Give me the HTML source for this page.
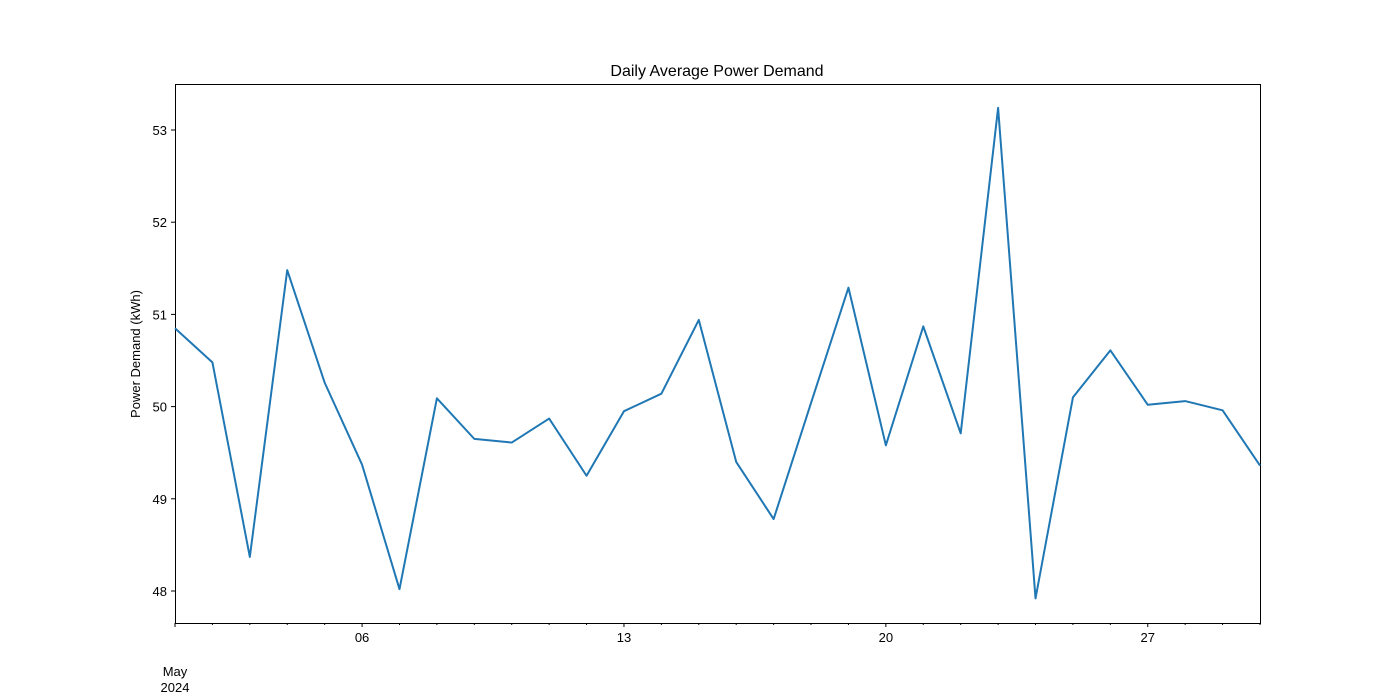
<!DOCTYPE html>
<html><head><meta charset="utf-8"><style>
body{margin:0;background:#fff;}
svg{display:block;font-family:"Liberation Sans","DejaVu Sans",sans-serif;}
</style></head><body>
<svg id="chart" width="1400" height="700">
<rect width="1400" height="700" fill="#fff"/>
<text x="717" y="76" text-anchor="middle" font-size="16">Daily Average Power Demand</text>
<text transform="translate(140,354) rotate(-90)" text-anchor="middle" font-size="13">Power Demand (kWh)</text>
<rect x="175.5" y="84.5" width="1085" height="539" fill="none" stroke="#000" stroke-width="1"/>
</svg>
<script>
const days = [1,2,3,4,5,6,7,8,9,10,11,12,13,14,15,16,17,18,19,20,21,22,23,24,25,26,27,28,29,30];
const demand = [50.85,50.48,48.37,51.48,50.26,49.37,48.02,50.09,49.65,49.61,49.87,49.25,49.95,50.14,50.94,49.40,48.78,50.04,51.29,49.58,50.87,49.71,53.24,47.92,50.10,50.61,50.02,50.06,49.96,49.36];
const yTicks = [48,49,50,51,52,53];
const xMajor = [6,13,20,27];
const xMajorLabels = ["06","13","20","27"];
const NS="http://www.w3.org/2000/svg";
const svg=document.getElementById('chart');
const L=175,R=1260,T=84,B=623;
const x=d=>L+(d-1)*(R-L)/29;
const y=v=>591-(v-48)*92.2;
function mk(tag,attrs){const e=document.createElementNS(NS,tag);for(const k in attrs)e.setAttribute(k,attrs[k]);svg.appendChild(e);return e;}
yTicks.forEach(t=>{
  const l=mk('line',{x1:L-4,x2:L,y1:y(t),y2:y(t),stroke:'#000'});
  
  
  const tx=mk('text',{x:L-8,y:y(t)+5,'text-anchor':'end','font-size':13});
  tx.textContent=t;
  
  
});
days.forEach(d=>{
  const major=xMajor.includes(d)||d===1;
  const l=mk('line',{x1:x(d),x2:x(d),y1:B,y2:B+(major?4:2),stroke:'#000'});
  
  
});
xMajor.forEach((d,i)=>{
  const tx=mk('text',{x:x(d),y:B+19,'text-anchor':'middle','font-size':13});
  tx.textContent=xMajorLabels[i];
  
  
});
const m=mk('text',{x:x(1),y:B+53,'text-anchor':'middle','font-size':13});
m.textContent='May';


const yr=mk('text',{x:x(1),y:B+69,'text-anchor':'middle','font-size':13});
yr.textContent='2024';


const p=mk('polyline',{points:days.map((d,i)=>x(d)+','+y(demand[i])).join(' '),fill:'none',stroke:'#1f77b4','stroke-width':2,'stroke-linejoin':'round'});


</script>
</body></html>
